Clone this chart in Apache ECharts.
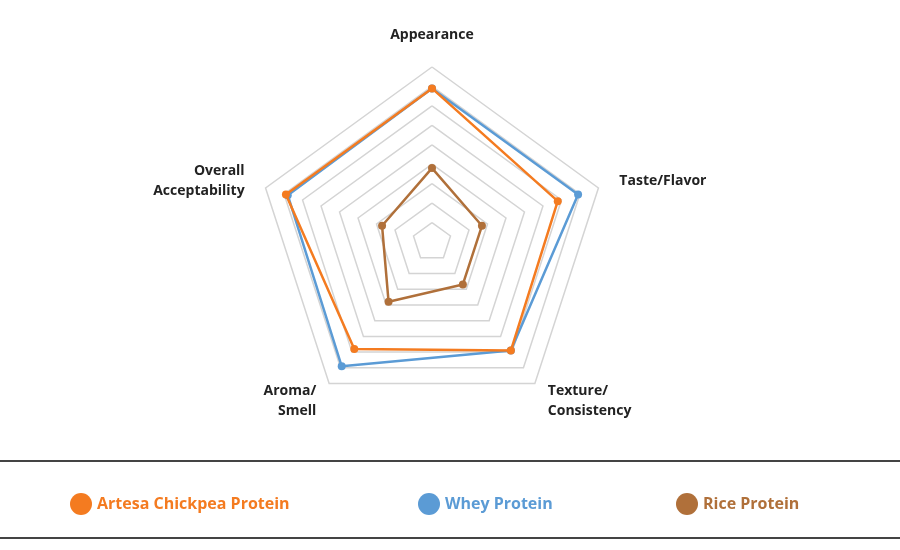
<!DOCTYPE html>
<html>
<head>
<meta charset="utf-8">
<script src="https://cdn.jsdelivr.net/npm/echarts@6/dist/echarts.min.js"></script>
<style>html,body{margin:0;background:#fff}#main{width:900px;height:550px}</style>
</head>
<body>
<div id="main"></div>
<script>
// order is counter-clockwise, as ECharts lays out radar axes
var indicators = ['Appearance', 'Overall\nAcceptability', 'Aroma/\nSmell', 'Texture/\nConsistency', 'Taste/Flavor'];
var chickpea = [7.9, 7.9, 6.8, 6.9, 6.8];
var whey = [7.9, 7.8, 7.9, 6.9, 7.9];
var rice = [3.8, 2.7, 3.8, 2.7, 2.7];
var names = ['Artesa Chickpea Protein', 'Whey Protein', 'Rice Protein'];
var colors = ['#f47b20', '#5b9bd5', '#b0703a'];

var myChart = echarts.init(document.getElementById('main'));

function leg(i, left) {
    return {
        left: left, top: 488, icon: 'circle', itemWidth: 22, itemHeight: 22, itemGap: 10,
        selectedMode: false,
        data: [{ name: names[i], textStyle: { color: colors[i] } }],
        textStyle: { fontFamily: 'Open Sans', fontWeight: 'bold', fontSize: 16 }
    };
}

function ser(i, data, z) {
    return {
        type: 'radar', name: names[i], z: z,
        symbol: 'circle', symbolSize: 8,
        lineStyle: { width: 2.5, color: colors[i] },
        itemStyle: { color: colors[i] },
        data: [{ value: data, name: names[i] }]
    };
}

var option = {
    animation: false,
    legend: [leg(0, 65), leg(1, 413), leg(2, 671)],
    radar: {
        center: [432, 242],
        radius: 175,
        splitNumber: 9,
        startAngle: 90,
        indicator: indicators.map(function (n) { return { name: n, min: 0, max: 9 }; }),
        axisName: { color: '#222', fontFamily: 'Open Sans', fontWeight: 'bold', fontSize: 14, lineHeight: 20 },
        nameGap: 22,
        splitLine: { lineStyle: { color: '#d4d4d4', width: 1.5 } },
        splitArea: { show: false },
        axisLine: { show: false }
    },
    graphic: [
        { type: 'line', shape: { x1: 0, y1: 461, x2: 900, y2: 461 }, style: { stroke: '#444', lineWidth: 2 } },
        { type: 'line', shape: { x1: 0, y1: 538, x2: 900, y2: 538 }, style: { stroke: '#444', lineWidth: 2 } }
    ],
    series: [ser(1, whey, 2), ser(0, chickpea, 3), ser(2, rice, 4)]
};

myChart.setOption(option);
</script>
</body>
</html>
